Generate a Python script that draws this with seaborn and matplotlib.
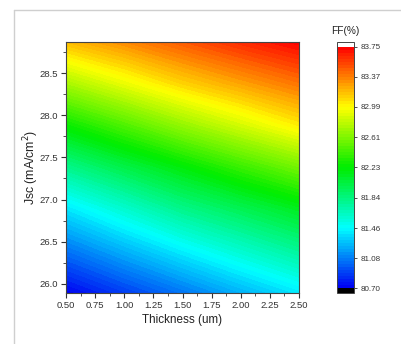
import matplotlib
matplotlib.use("Agg")
import numpy as np
import pandas as pd
import seaborn as sns
import matplotlib.pyplot as plt
from matplotlib.colors import LinearSegmentedColormap
from matplotlib.ticker import MultipleLocator
from matplotlib.lines import Line2D

# Absorber thickness (um) and short-circuit current density (mA/cm^2)
thickness = [0.50, 1.00, 1.50, 2.00, 2.50]
jsc = [25.89, 26.39, 26.89, 27.38, 27.88, 28.38, 28.87]

# Fill factor (%) along Jsc, one list per thickness
ff_050 = [80.71, 81.04, 81.39, 81.80, 82.24, 82.72, 83.18]
ff_100 = [80.88, 81.23, 81.60, 82.00, 82.45, 82.92, 83.33]
ff_150 = [81.05, 81.42, 81.81, 82.19, 82.66, 83.11, 83.48]
ff_200 = [81.23, 81.60, 81.97, 82.38, 82.85, 83.26, 83.62]
ff_250 = [81.40, 81.77, 82.13, 82.56, 83.03, 83.40, 83.74]

cbar_ticks = [80.70, 81.08, 81.46, 81.84, 82.23, 82.61, 82.99, 83.37, 83.75]
x_ticks = [0.50, 0.75, 1.00, 1.25, 1.50, 1.75, 2.00, 2.25, 2.50]
y_ticks = [26.0, 26.5, 27.0, 27.5, 28.0, 28.5]

sns.set_theme(style="ticks")
plt.rcParams["font.family"] = ["Liberation Sans", "DejaVu Sans"]

records = []
for t, col in zip(thickness, [ff_050, ff_100, ff_150, ff_200, ff_250]):
    for j, v in zip(jsc, col):
        records.append({"thickness": t, "jsc": j, "ff": v})
df = pd.DataFrame(records)
grid = df.pivot(index="jsc", columns="thickness", values="ff")

cmap = LinearSegmentedColormap.from_list(
    "rainbow_ff",
    [(0.00, (0.0, 0.0, 0.95)),
     (0.25, (0.0, 1.0, 1.0)),
     (0.50, (0.0, 0.93, 0.0)),
     (0.75, (1.0, 1.0, 0.0)),
     (1.00, (1.0, 0.0, 0.0))],
)
cmap.set_over("white")
cmap.set_under("black")

W, H = 401, 344
fig = plt.figure(figsize=(W / 100, H / 100), dpi=100)
fig.patch.set_facecolor("white")

# page border
fig.add_artist(Line2D([14 / W, 14 / W], [0, 1 - 10 / H], transform=fig.transFigure,
                      color="#cfcfcf", lw=1.0))
fig.add_artist(Line2D([14 / W, 1], [1 - 10 / H, 1 - 10 / H], transform=fig.transFigure,
                      color="#cfcfcf", lw=1.0))

ax = fig.add_axes([66 / W, 1 - 293 / H, (299 - 66) / W, (293 - 42) / H])
levels = np.linspace(cbar_ticks[0], cbar_ticks[-1], 81)
cf = ax.contourf(grid.columns.values, grid.index.values, grid.values,
                 levels=levels, cmap=cmap, extend="both")

ax.set_xlim(0.5, 2.5)
ax.set_ylim(25.89, 28.87)
ax.set_xticks(x_ticks)
ax.set_xticklabels([f"{v:.2f}" for v in x_ticks])
ax.set_yticks(y_ticks)
ax.set_yticklabels([f"{v:.1f}" for v in y_ticks])
ax.xaxis.set_minor_locator(MultipleLocator(0.125))
ax.yaxis.set_minor_locator(MultipleLocator(0.25))
ax.tick_params(which="major", direction="out", length=3.5, width=0.8,
               labelsize=6.8, colors="#333333", pad=2)
ax.tick_params(which="minor", direction="out", length=2, width=0.6, colors="#333333")
for s in ax.spines.values():
    s.set_color("#444444")
    s.set_linewidth(0.8)
ax.set_xlabel("Thickness (um)", fontsize=8.4, color="#222222", labelpad=3)
ax.set_ylabel("Jsc (mA/cm$^2$)", fontsize=8.8, color="#222222", labelpad=-1)

cax = fig.add_axes([336.7 / W, 1 - 293.3 / H, 17.6 / W, (293.3 - 41.7) / H])
cb = fig.colorbar(cf, cax=cax, extend="both", extendfrac=0.021, extendrect=True,
                  ticks=cbar_ticks)
cb.ax.set_yticklabels([f"{v:.2f}" for v in cbar_ticks])
cb.ax.tick_params(direction="out", length=2.5, width=0.6, labelsize=5.8,
                  colors="#333333", pad=2)
cb.outline.set_edgecolor("#444444")
cb.outline.set_linewidth(0.7)
cb.ax.minorticks_off()
fig.text(345 / W, 1 - 31 / H, "FF(%)", ha="center", va="center",
         fontsize=7.3, color="#222222")

fig.savefig("out.png", dpi=100)
